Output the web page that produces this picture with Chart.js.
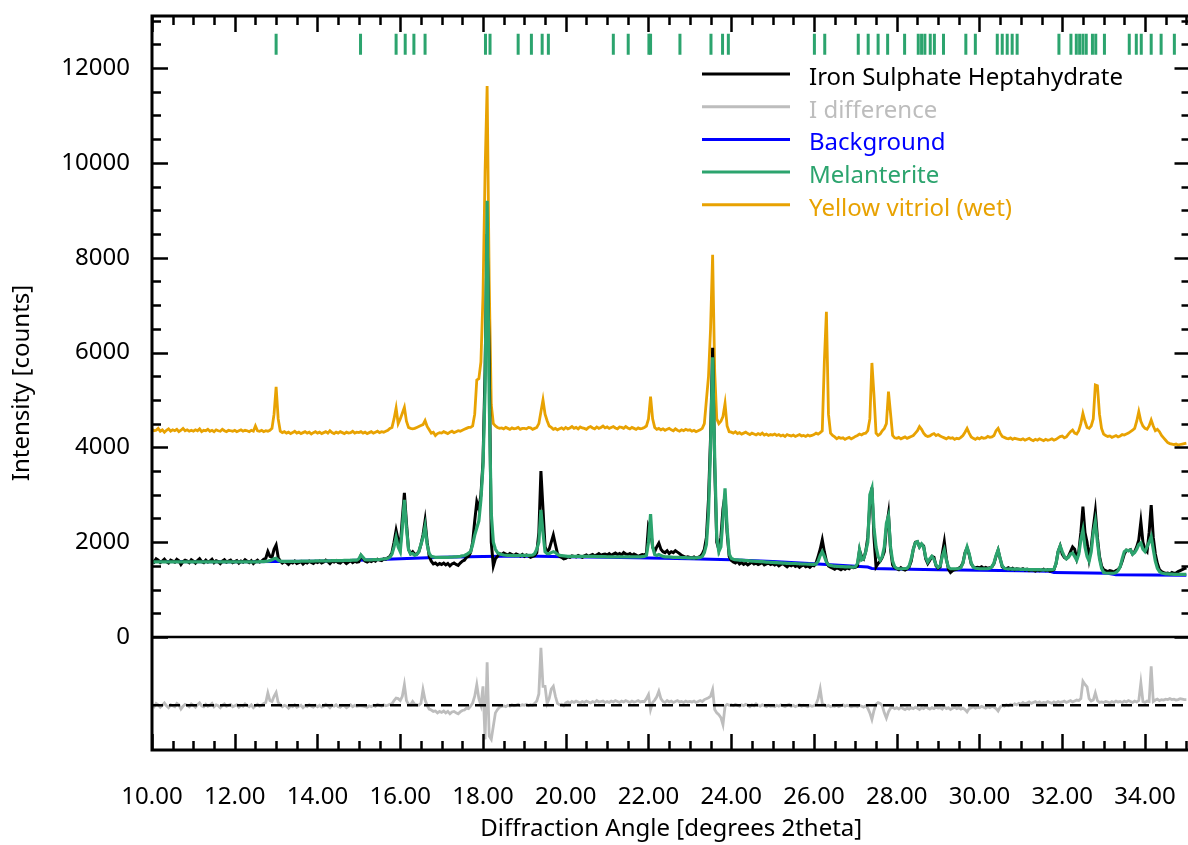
<!DOCTYPE html>
<html>
<head>
<meta charset="utf-8">
<script src="https://cdn.jsdelivr.net/npm/chart.js@4.4.1/dist/chart.umd.min.js"></script>
<style>
  html, body { margin: 0; padding: 0; background: #fff; overflow: hidden; }
  #wrap { width: 1188px; height: 845px; overflow: hidden; }
</style>
</head>
<body>
<div id="wrap"><canvas id="chart" width="1204" height="845"></canvas></div>
<script>
// pas de mesure : 10.00 -> 35.00 deg, 0.05 deg
const startAngle = 10;
const stepAngle = 0.05;

// Iron Sulphate Heptahydrate (observé), une ligne = 1 degré
const observed = [
  1610,1580,1650,1620,1570,1600,1640,1590,1560,1620,1600,1580,1640,1610,1530,1590,1620,1600,1570,1630, // 10
  1600,1560,1610,1650,1590,1570,1620,1580,1600,1640,1570,1610,1590,1550,1600,1630,1580,1600,1620,1570, // 11
  1590,1610,1560,1600,1580,1630,1600,1570,1610,1550,1590,1620,1580,1600,1640,1660,1800,1700,1680,1850, // 12
  1940,1680,1600,1560,1590,1570,1530,1580,1560,1600,1550,1570,1590,1540,1580,1560,1600,1570,1550,1590, // 13
  1570,1600,1560,1580,1620,1590,1550,1600,1580,1610,1570,1560,1600,1590,1550,1580,1610,1570,1600,1580, // 14
  1590,1720,1660,1600,1580,1610,1590,1620,1600,1640,1620,1610,1650,1640,1670,1700,1780,2000,2250,2050, // 15
  1900,2500,3040,2400,1850,1760,1800,1740,1750,1800,1950,2150,2450,2000,1700,1600,1540,1560,1520,1550, // 16
  1530,1560,1520,1550,1500,1540,1560,1530,1510,1560,1600,1620,1680,1700,1780,2000,2450,2850,2700,3000, // 17
  3700,5600,8500,5850,2000,1500,1650,1700,1760,1740,1770,1750,1730,1760,1740,1720,1750,1730,1710,1740, // 18
  1700,1730,1710,1680,1700,1720,1780,2200,3500,2700,1900,1800,1850,2000,2150,1950,1760,1700,1680,1650, // 19
  1660,1690,1680,1710,1700,1690,1720,1700,1680,1710,1730,1700,1720,1740,1710,1730,1760,1720,1740,1750, // 20
  1730,1760,1720,1750,1770,1740,1760,1730,1780,1750,1740,1760,1720,1750,1730,1700,1720,1740,1730,1760, // 21
  2350,2250,1900,1800,1900,1980,1850,1800,1780,1820,1760,1800,1780,1820,1790,1760,1720,1700,1680,1690, // 22
  1680,1670,1690,1660,1680,1700,1750,1850,2100,2900,4200,6100,3600,2000,1850,2100,2700,3000,2200,1700, // 23
  1620,1580,1560,1600,1540,1570,1530,1560,1520,1550,1580,1540,1560,1530,1550,1570,1520,1540,1560,1530, // 24
  1550,1520,1540,1500,1530,1550,1510,1480,1520,1500,1530,1490,1510,1470,1500,1520,1480,1500,1470,1510, // 25
  1500,1560,1700,1850,2050,1800,1600,1500,1470,1450,1430,1460,1440,1420,1450,1430,1460,1440,1480,1460, // 26
  1470,1500,1830,1700,1650,1800,2100,2800,3150,2100,1480,1550,1600,1680,1800,2300,2600,1850,1520,1460, // 27
  1440,1420,1460,1430,1410,1440,1480,1600,1850,2000,2010,1900,1960,1920,1650,1550,1620,1700,1680,1500, // 28
  1450,1480,1750,2010,1650,1430,1360,1400,1420,1430,1450,1480,1560,1780,1880,1740,1540,1480,1460,1470, // 29
  1460,1480,1450,1470,1450,1460,1480,1550,1700,1830,1650,1480,1450,1440,1460,1430,1450,1420,1440,1430, // 30
  1420,1440,1410,1430,1400,1420,1410,1390,1420,1400,1410,1430,1400,1420,1390,1400,1420,1550,1800,1920, // 31
  1750,1680,1650,1700,1800,1900,1850,1650,1800,2200,2750,2200,2000,1650,1900,2300,2650,2100,1700,1500, // 32
  1420,1400,1380,1400,1390,1370,1400,1420,1480,1600,1750,1830,1820,1840,1750,1800,1900,2050,2430,2000, // 33
  1850,1800,2200,2780,2100,1750,1550,1420,1380,1360,1340,1350,1330,1360,1340,1350,1380,1400,1420,1440, // 34
  1460
];

// Melanterite (calculé)
const melanterite = [
  1585,1585,1585,1585,1585,1585,1585,1585,1585,1585,1585,1585,1585,1585,1585,1585,1585,1585,1585,1585, // 10
  1585,1585,1585,1585,1585,1585,1585,1585,1585,1585,1585,1585,1585,1585,1585,1585,1585,1585,1585,1585, // 11
  1585,1585,1585,1585,1585,1585,1585,1585,1585,1585,1585,1585,1590,1590,1590,1595,1600,1610,1630,1650, // 12
  1660,1620,1600,1595,1595,1595,1595,1595,1595,1595,1595,1595,1600,1600,1600,1600,1600,1600,1600,1605, // 13
  1605,1605,1605,1605,1605,1605,1605,1610,1610,1610,1610,1610,1610,1615,1615,1615,1615,1620,1620,1620, // 14
  1650,1730,1680,1630,1625,1625,1625,1630,1630,1630,1635,1640,1645,1650,1660,1680,1750,1900,2100,1900, // 15
  1800,2300,2890,2300,1850,1750,1760,1720,1740,1800,1950,2100,2330,1950,1760,1700,1690,1680,1680,1680, // 16
  1680,1680,1680,1680,1685,1685,1690,1690,1695,1700,1710,1720,1740,1770,1800,1950,2150,2300,2450,2900, // 17
  3600,5200,9200,5000,2600,2000,1850,1780,1750,1740,1730,1725,1720,1720,1715,1715,1715,1715,1720,1720, // 18
  1720,1720,1720,1725,1730,1760,1850,2000,2680,2200,1800,1760,1760,1780,1800,1780,1740,1720,1715,1710, // 19
  1705,1700,1700,1700,1700,1700,1700,1700,1700,1700,1700,1700,1700,1700,1700,1695,1695,1695,1695,1695, // 20
  1690,1690,1690,1690,1690,1690,1690,1690,1690,1690,1690,1690,1690,1690,1690,1690,1690,1695,1700,1720, // 21
  2000,2590,1900,1740,1720,1740,1720,1700,1690,1690,1690,1685,1680,1680,1680,1680,1675,1675,1675,1670, // 22
  1670,1670,1670,1670,1675,1680,1700,1780,1950,2600,4000,5900,3800,2100,1800,1900,2500,3136,2300,1750, // 23
  1660,1640,1630,1625,1620,1620,1615,1610,1610,1605,1600,1600,1595,1595,1590,1590,1585,1580,1580,1575, // 24
  1575,1570,1570,1565,1565,1560,1560,1555,1555,1550,1550,1550,1545,1545,1540,1540,1540,1535,1535,1530, // 25
  1530,1540,1600,1720,1800,1700,1580,1520,1510,1500,1495,1490,1490,1485,1485,1480,1480,1480,1475,1475, // 26
  1480,1550,1835,1625,1650,1800,2000,3000,3136,2300,1900,1700,1620,1700,1900,2400,2553,1900,1600,1480, // 27
  1450,1440,1440,1440,1445,1450,1500,1650,1850,1990,2010,1900,1960,1900,1680,1580,1650,1700,1640,1520, // 28
  1470,1500,1700,1835,1620,1470,1440,1440,1440,1440,1445,1460,1560,1760,1900,1760,1560,1470,1450,1445, // 29
  1440,1440,1440,1440,1440,1450,1480,1560,1720,1835,1650,1500,1450,1440,1435,1435,1430,1430,1430,1430, // 30
  1425,1425,1425,1425,1420,1420,1420,1420,1420,1420,1415,1415,1415,1415,1420,1420,1430,1550,1800,1920, // 31
  1800,1700,1650,1680,1750,1772,1700,1620,1750,2050,2257,1900,1700,1600,1800,2200,2433,2000,1650,1450, // 32
  1360,1350,1345,1345,1345,1345,1360,1400,1480,1650,1800,1835,1820,1835,1750,1780,1850,1950,1983,1850, // 33
  1800,1900,2000,2117,1850,1600,1450,1380,1350,1340,1330,1330,1325,1325,1320,1320,1320,1320,1320,1320, // 34
  1320
];

// Yellow vitriol (wet), décalé
const yellowVitriol = [
  4380,4350,4360,4400,4340,4370,4320,4360,4390,4340,4370,4350,4380,4330,4360,4400,4350,4370,4340,4360, // 10
  4340,4370,4350,4390,4330,4360,4350,4380,4340,4360,4330,4370,4350,4340,4380,4350,4330,4360,4350,4340, // 11
  4360,4330,4350,4370,4340,4360,4350,4330,4360,4340,4450,4350,4340,4360,4330,4350,4340,4360,4400,4700, // 12
  5275,4600,4340,4310,4330,4300,4320,4290,4310,4340,4300,4320,4290,4310,4330,4300,4320,4280,4310,4330, // 13
  4300,4320,4290,4310,4330,4300,4350,4310,4290,4320,4300,4330,4310,4290,4320,4300,4310,4340,4300,4320, // 14
  4310,4330,4300,4320,4290,4310,4330,4300,4320,4340,4310,4330,4320,4340,4360,4400,4420,4600,4830,4500, // 15
  4600,4720,4845,4550,4420,4400,4390,4400,4420,4440,4460,4480,4565,4440,4370,4300,4320,4250,4290,4310, // 16
  4300,4330,4310,4290,4320,4340,4310,4330,4350,4340,4360,4380,4400,4420,4420,4450,4700,5420,5450,5800, // 17
  7200,9800,11620,7500,4900,4500,4450,4420,4400,4410,4390,4420,4400,4380,4410,4390,4400,4420,4380,4400, // 18
  4400,4390,4420,4410,4380,4400,4420,4500,4750,5000,4700,4560,4450,4420,4380,4400,4370,4390,4410,4380, // 19
  4420,4390,4410,4440,4400,4420,4390,4430,4410,4400,4380,4420,4440,4410,4390,4430,4400,4420,4450,4410, // 20
  4430,4400,4420,4440,4410,4390,4430,4420,4400,4440,4410,4390,4420,4400,4380,4410,4390,4400,4420,4450, // 21
  4600,5070,4600,4420,4380,4400,4370,4390,4360,4380,4400,4370,4350,4390,4360,4340,4370,4350,4380,4360, // 22
  4370,4340,4360,4330,4350,4370,4400,4500,5000,5490,6500,8060,5600,4600,4500,4550,4650,4925,4450,4330, // 23
  4320,4300,4330,4290,4310,4280,4300,4320,4290,4270,4300,4280,4260,4290,4270,4300,4260,4280,4250,4270, // 24
  4260,4280,4250,4270,4240,4260,4230,4270,4250,4240,4260,4230,4250,4270,4240,4250,4230,4260,4240,4250, // 25
  4270,4300,4280,4310,4350,5800,6860,4700,4300,4250,4220,4180,4210,4190,4200,4170,4190,4210,4180,4200, // 26
  4230,4250,4280,4260,4290,4300,4350,4600,5780,5100,4300,4250,4280,4350,4400,4500,5176,4717,4250,4200, // 27
  4190,4210,4180,4200,4220,4190,4210,4230,4250,4300,4350,4437,4380,4300,4250,4230,4240,4270,4290,4250, // 28
  4270,4240,4220,4200,4180,4210,4190,4200,4170,4190,4180,4210,4250,4320,4400,4300,4220,4190,4170,4200, // 29
  4180,4210,4190,4200,4230,4210,4220,4250,4350,4400,4300,4230,4210,4190,4180,4200,4170,4190,4180,4170, // 30
  4160,4180,4150,4170,4190,4160,4140,4170,4150,4180,4160,4140,4170,4150,4160,4180,4150,4170,4200,4226, // 31
  4240,4200,4220,4280,4330,4366,4300,4280,4350,4500,4717,4550,4420,4400,4450,4600,5317,5300,4700,4400, // 32
  4280,4250,4230,4240,4210,4230,4250,4220,4240,4270,4260,4280,4300,4330,4360,4400,4550,4752,4550,4450, // 33
  4400,4380,4450,4577,4450,4350,4380,4330,4250,4200,4150,4100,4080,4070,4060,4070,4050,4060,4070,4080, // 34
  4090
];

// I difference (décalée sous zéro)
const difference = [
  -1420,-1470,-1400,-1430,-1480,-1440,-1390,-1450,-1490,-1430,-1450,-1470,-1400,-1430,-1520,-1460,-1420,-1440,-1470,-1410, // 10
  -1440,-1480,-1430,-1390,-1450,-1470,-1420,-1460,-1440,-1400,-1470,-1430,-1450,-1490,-1440,-1410,-1460,-1440,-1420,-1470, // 11
  -1450,-1430,-1480,-1440,-1460,-1410,-1440,-1470,-1430,-1490,-1450,-1420,-1460,-1440,-1400,-1380,-1180,-1340,-1360,-1250, // 12
  -1170,-1380,-1430,-1470,-1440,-1460,-1500,-1450,-1470,-1430,-1480,-1460,-1440,-1490,-1450,-1470,-1430,-1460,-1480,-1440, // 13
  -1470,-1440,-1480,-1460,-1420,-1450,-1490,-1440,-1460,-1430,-1470,-1480,-1440,-1450,-1490,-1460,-1430,-1470,-1440,-1460, // 14
  -1450,-1450,-1460,-1470,-1480,-1450,-1470,-1440,-1460,-1420,-1440,-1460,-1430,-1450,-1440,-1420,-1410,-1340,-1290,-1300, // 15
  -1340,-1250,-1004,-1340,-1420,-1430,-1360,-1420,-1430,-1440,-1400,-1110,-1330,-1440,-1520,-1540,-1570,-1560,-1600,-1570, // 16
  -1590,-1560,-1600,-1570,-1620,-1580,-1570,-1600,-1620,-1580,-1550,-1540,-1500,-1510,-1460,-1390,-1250,-1004,-1300,-1440, // 17
  -1040,-2160,-533,-2090,-2160,-1880,-1600,-1530,-1480,-1460,-1450,-1470,-1440,-1460,-1430,-1450,-1440,-1420,-1450,-1430, // 18
  -1440,-1420,-1450,-1430,-1440,-1400,-1350,-1200,-230,-1040,-1040,-1400,-1300,-1100,-1040,-1250,-1400,-1430,-1420,-1450, // 19
  -1390,-1370,-1400,-1360,-1380,-1350,-1370,-1390,-1360,-1380,-1350,-1370,-1390,-1360,-1380,-1340,-1370,-1360,-1350,-1380, // 20
  -1360,-1380,-1350,-1370,-1340,-1360,-1380,-1350,-1370,-1340,-1360,-1380,-1350,-1370,-1360,-1340,-1370,-1360,-1360,-1300, // 21
  -1215,-1530,-1380,-1330,-1260,-1145,-1300,-1360,-1380,-1340,-1370,-1350,-1380,-1360,-1340,-1370,-1360,-1380,-1350,-1370, // 22
  -1360,-1370,-1350,-1380,-1360,-1340,-1360,-1320,-1300,-1280,-1250,-1110,-1530,-1600,-1640,-1700,-1850,-1460,-1420,-1440, // 23
  -1430,-1450,-1420,-1440,-1460,-1430,-1450,-1420,-1440,-1470,-1430,-1450,-1410,-1440,-1460,-1430,-1450,-1470,-1440,-1460, // 24
  -1450,-1470,-1440,-1460,-1430,-1450,-1470,-1440,-1420,-1460,-1440,-1470,-1450,-1430,-1460,-1440,-1450,-1470,-1440,-1460, // 25
  -1450,-1420,-1300,-1095,-1400,-1430,-1460,-1440,-1470,-1450,-1460,-1440,-1470,-1450,-1430,-1460,-1440,-1450,-1470,-1460, // 26
  -1450,-1470,-1440,-1460,-1480,-1450,-1500,-1600,-1740,-1550,-1420,-1385,-1400,-1450,-1600,-1710,-1580,-1500,-1480,-1510, // 27
  -1490,-1520,-1480,-1510,-1530,-1500,-1520,-1490,-1510,-1480,-1500,-1530,-1490,-1510,-1470,-1500,-1520,-1490,-1510,-1480, // 28
  -1500,-1490,-1520,-1460,-1510,-1490,-1530,-1500,-1480,-1510,-1490,-1520,-1500,-1530,-1580,-1510,-1490,-1470,-1500,-1480, // 29
  -1490,-1460,-1480,-1500,-1470,-1490,-1460,-1480,-1510,-1560,-1480,-1440,-1460,-1430,-1450,-1420,-1440,-1410,-1430,-1400, // 30
  -1420,-1380,-1410,-1390,-1370,-1400,-1380,-1360,-1390,-1370,-1400,-1380,-1390,-1360,-1380,-1400,-1370,-1390,-1360,-1380, // 31
  -1370,-1350,-1380,-1360,-1340,-1370,-1350,-1330,-1340,-1300,-934,-1000,-1050,-1300,-1350,-1330,-1180,-1340,-1380,-1370, // 32
  -1380,-1360,-1370,-1390,-1360,-1380,-1350,-1370,-1360,-1380,-1350,-1370,-1340,-1360,-1380,-1350,-1370,-1340,-970,-1360, // 33
  -1380,-1350,-1360,-620,-1360,-1330,-1310,-1340,-1320,-1330,-1310,-1320,-1300,-1320,-1310,-1330,-1320,-1300,-1310,-1320, // 34
  -1320
];

// fond (Background)
const bgAngle  = [10, 12, 14, 15, 16, 17, 18, 19, 20, 21, 22, 23, 24, 25, 26, 27, 27.3, 27.4, 28, 29, 30, 31, 31.7, 31.8, 33.1, 33.3, 35];
const bgCounts = [1590, 1588, 1600, 1620, 1650, 1680, 1700, 1710, 1695, 1680, 1665, 1650, 1630, 1590, 1545, 1490, 1475, 1445, 1435, 1420, 1410, 1395, 1385, 1358, 1345, 1312, 1300];

// positions des raies de la Melanterite (traits verts en haut)
const reflectionAngle = [
  13.00, 15.04, 15.90, 16.12, 16.33, 16.60, 18.06, 18.17, 18.85, 19.17, 19.43, 19.58,
  21.15, 21.51, 22.01, 22.05, 22.76, 23.51, 23.79, 23.93, 26.01, 26.26, 27.07, 27.31,
  27.55, 27.78, 28.19, 28.52, 28.60, 28.68, 28.81, 28.91, 29.13, 29.67, 29.90, 30.43,
  30.55, 30.67, 30.79, 30.91, 31.92, 32.21, 32.34, 32.42, 32.50, 32.58, 32.73, 32.81,
  33.02, 33.62, 33.79, 33.91, 34.15, 34.39, 34.71
];
const reflectionLevel = 12500;
const differenceZero = -1440;

const xTicks = [10, 12, 14, 16, 18, 20, 22, 24, 26, 28, 30, 32, 34];
const yTicks = [0, 2000, 4000, 6000, 8000, 10000, 12000];

const COLORS = {
  obs: '#000000',
  diff: '#bdbdbd',
  bg: '#0000ff',
  calc: '#2ca46e',
  yellow: '#e8a202'
};

const angle = observed.map((_, i) => +(startAngle + i * stepAngle).toFixed(2));
const toXY = arr => arr.map((v, i) => ({ x: angle[i], y: v }));

Chart.defaults.font.family = "'Noto Sans', sans-serif";
Chart.defaults.font.size = 24;
Chart.defaults.color = '#000';

// cadre + graduations vers l'intérieur
const framePlugin = {
  id: 'frame',
  afterDatasetsDraw(chart) {
    const { ctx, chartArea: a, scales: { x, y } } = chart;
    ctx.save();
    ctx.strokeStyle = '#000';
    ctx.lineWidth = 2.5;
    ctx.beginPath();
    for (let v = 10; v <= 35.001; v += 0.5) {
      const px = Math.round(x.getPixelForValue(v)) + 0.5;
      const len = (Math.abs(v % 2) < 0.001) ? 16 : 9;
      ctx.moveTo(px, a.bottom); ctx.lineTo(px, a.bottom - len);
      ctx.moveTo(px, a.top); ctx.lineTo(px, a.top + len);
    }
    for (let v = 0; v <= 13000; v += 500) {
      const py = Math.round(y.getPixelForValue(v)) + 0.5;
      const len = (v % 2000 === 0) ? 16 : 9;
      ctx.moveTo(a.left, py); ctx.lineTo(a.left + len, py);
      ctx.moveTo(a.right, py); ctx.lineTo(a.right - len, py);
    }
    ctx.stroke();
    // ligne zéro
    ctx.beginPath();
    const y0 = y.getPixelForValue(0);
    ctx.moveTo(a.left, y0); ctx.lineTo(a.right, y0);
    ctx.stroke();
    ctx.lineWidth = 3;
    ctx.strokeRect(a.left, a.top, a.right - a.left, a.bottom - a.top);
    ctx.restore();
  }
};

// légende dans le coin haut droit
const legendPlugin = {
  id: 'insideLegend',
  afterDraw(chart) {
    const { ctx } = chart;
    const items = chart.data.datasets.filter(d => d.inLegend);
    items.sort((p, q) => p.legendRank - q.legendRank);
    ctx.save();
    ctx.font = "24px 'Noto Sans', sans-serif";
    ctx.textBaseline = 'middle';
    items.forEach((d, i) => {
      const yy = 74 + i * 32.7;
      ctx.strokeStyle = d.borderColor;
      ctx.lineWidth = 3;
      ctx.beginPath();
      ctx.moveTo(702, yy); ctx.lineTo(790, yy);
      ctx.stroke();
      ctx.fillStyle = d.borderColor;
      ctx.fillText(d.label, 809, yy + 4);
    });
    ctx.restore();
  }
};

const lineStyle = { pointRadius: 0, tension: 0, fill: false };

new Chart(document.getElementById('chart'), {
  type: 'line',
  data: {
    datasets: [
      { ...lineStyle, label: 'Melanterite', data: toXY(melanterite), borderColor: COLORS.calc, borderWidth: 3.2, order: 1, inLegend: true, legendRank: 3 },
      { ...lineStyle, label: 'Iron Sulphate Heptahydrate', data: toXY(observed), borderColor: COLORS.obs, borderWidth: 3, order: 2, inLegend: true, legendRank: 0 },
      { ...lineStyle, label: 'Yellow vitriol (wet)', data: toXY(yellowVitriol), borderColor: COLORS.yellow, borderWidth: 2.8, order: 3, inLegend: true, legendRank: 4 },
      { ...lineStyle, label: 'Background', data: bgAngle.map((a, i) => ({ x: a, y: bgCounts[i] })), borderColor: COLORS.bg, borderWidth: 3, order: 4, inLegend: true, legendRank: 2 },
      { ...lineStyle, label: 'zero', data: [{ x: 10, y: differenceZero }, { x: 35, y: differenceZero }], borderColor: '#000', borderWidth: 2.5, borderDash: [11, 6], order: 5 },
      { ...lineStyle, label: 'I difference', data: toXY(difference), borderColor: COLORS.diff, borderWidth: 2.8, order: 6, inLegend: true, legendRank: 1 },
      {
        label: 'reflections', type: 'scatter', showLine: false,
        data: reflectionAngle.map(a => ({ x: a, y: reflectionLevel })),
        pointStyle: 'line', rotation: 90, radius: 10.5,
        borderColor: COLORS.calc, backgroundColor: COLORS.calc, borderWidth: 3, order: 0
      }
    ]
  },
  options: {
    responsive: false,
    animation: false,
    events: [],
    layout: { padding: { top: 16, right: 8, left: 0, bottom: 0 } },
    plugins: { legend: { display: false }, tooltip: { enabled: false } },
    scales: {
      x: {
        type: 'linear', min: 10, max: 35.1,
        grid: { display: false }, border: { display: false },
        afterFit(s) { s.height = 95; s.paddingLeft = 0; s.paddingRight = 0; },
        afterBuildTicks(s) { s.ticks = xTicks.map(v => ({ value: v })); },
        ticks: { autoSkip: false, maxRotation: 0, padding: 25, callback: v => Number(v).toFixed(2) },
        title: { display: true, text: 'Diffraction Angle [degrees 2theta]', padding: { top: 0, bottom: 1 } }
      },
      y: {
        type: 'linear', min: -2383, max: 13097,
        grid: { display: false }, border: { display: false },
        afterFit(s) { s.width = 152; s.paddingTop = 0; s.paddingBottom = 0; },
        afterBuildTicks(s) { s.ticks = yTicks.map(v => ({ value: v })); },
        ticks: { autoSkip: false, padding: 14, callback: v => String(v) },
        title: { display: true, text: 'Intensity [counts]', padding: { top: 8, bottom: 0 } }
      }
    }
  },
  plugins: [framePlugin, legendPlugin]
});
</script>
</body>
</html>
